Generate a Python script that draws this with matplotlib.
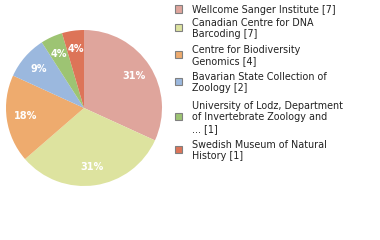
import matplotlib
matplotlib.use("Agg")
import matplotlib.pyplot as plt
from matplotlib.patches import Rectangle

institutions = ["Wellcome Sanger Institute", "Canadian Centre for DNA\nBarcoding",
                "Centre for Biodiversity\nGenomics", "Bavarian State Collection of\nZoology",
                "University of Lodz, Department\nof Invertebrate Zoology and\n...",
                "Swedish Museum of Natural\nHistory"]
counts = [7, 7, 4, 2, 1, 1]
colors = ["#dfa59c", "#dde39f", "#eeab6e", "#9bb8de", "#9dc473", "#dd7458"]

W, H = 380, 240
fig = plt.figure(figsize=(W/100, H/100), dpi=100)
cx, cy, r = 84, 108, 78
ax = fig.add_axes([(cx - r)/W, (H - cy - r)/H, 2*r/W, 2*r/H])
total = sum(counts)
wedges, texts, autotexts = ax.pie(
    counts, colors=colors, startangle=90, counterclock=False,
    autopct=lambda p: f"{int(p)}%", pctdistance=0.76,
    wedgeprops=dict(linewidth=0),
    textprops=dict(color="white", fontsize=7, fontweight="bold"))
ax.set_xlim(-1, 1); ax.set_ylim(-1, 1)
ax.set_aspect("equal")
ax.axis("off")

block_y = [9.5, 28, 55, 82, 117, 150]
for lab, n, c, y in zip(institutions, counts, colors, block_y):
    fig.patches.append(Rectangle(((174.5)/W, 1 - (y - 0.5 + 3.5)/H), 7/W, 7/H,
                                 transform=fig.transFigure, facecolor=c,
                                 edgecolor="#808080", linewidth=0.8))
    fig.text(192/W, 1 - (y + 0.5)/H, f"{lab} [{n}]", fontsize=6.9, color="#222222",
             va="center", ha="left", linespacing=1.2)

fig.savefig("out.png", dpi=100)
